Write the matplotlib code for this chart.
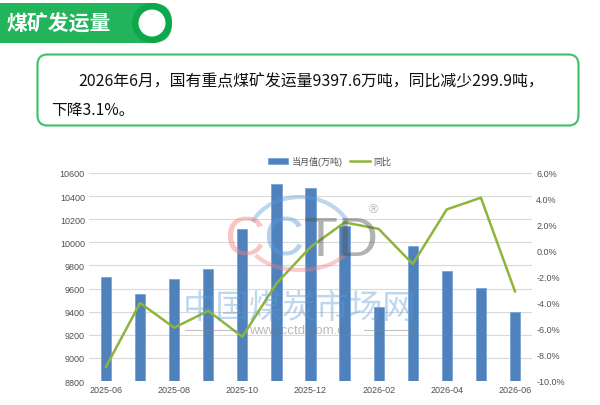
import matplotlib
matplotlib.use("Agg")
import matplotlib.pyplot as plt
from matplotlib.patches import FancyBboxPatch, Circle, Patch, Arc
from matplotlib.lines import Line2D
import numpy as np

plt.rcParams['font.family'] = ['Liberation Sans', 'Noto Sans CJK SC', 'DejaVu Sans']

months = ["2025-06", "2025-07", "2025-08", "2025-09", "2025-10", "2025-11", "2025-12",
          "2026-01", "2026-02", "2026-03", "2026-04", "2026-05", "2026-06"]
volume = [9697.5, 9556, 9683, 9767, 10113, 10508, 10473, 10139, 9440, 9966, 9749, 9605, 9397.6]
yoy = [-8.9, -4.0, -5.9, -4.6, -6.6, -2.5, 0.3, 2.2, 1.7, -1.0, 3.2, 4.1, -3.1]
left_ticks = [8800, 9000, 9200, 9400, 9600, 9800, 10000, 10200, 10400, 10600]
right_ticks = [-10, -8, -6, -4, -2, 0, 2, 4, 6]

title = "煤矿发运量"
line1 = "2026年6月，国有重点煤矿发运量9397.6万吨，同比减少299.9吨，"
line2 = "下降3.1%。"
legend_labels = ["当月值(万吨)", "同比"]

W, H = 600, 406
fig = plt.figure(figsize=(6, 4.06), dpi=100)
fig.patch.set_facecolor('white')

# main chart
ax = fig.add_axes([89 / W, 1 - 382 / H, (532 - 89) / W, 208 / H])
x = np.arange(len(months))
bar_color = '#4F81BD'
line_color = '#8DB53C'
ax.bar(x, volume, width=0.3, color=bar_color, edgecolor='#7aa3d6', linewidth=0.6, zorder=2)
ax.set_ylim(8800, 10600)
ax.set_xlim(-0.5, len(months) - 0.5)
ax.set_yticks(left_ticks)
ax.set_xticks(x[::2])
ax.set_xticklabels(months[::2])
ax.grid(axis='y', color='#d9d9d9', linewidth=0.8, zorder=0)
ax.set_axisbelow(True)
for s in ax.spines.values():
    s.set_visible(False)
ax.tick_params(length=0, labelsize=6.5, colors='#505050', pad=3)

ax2 = ax.twinx()
ax2.plot(x, yoy, color=line_color, linewidth=1.8, zorder=3)
ax2.set_ylim(-10, 6)
ax2.set_yticks(right_ticks)
ax2.set_yticklabels([f"{v:.1f}%" for v in right_ticks])
for s in ax2.spines.values():
    s.set_visible(False)
ax2.tick_params(length=0, labelsize=6.5, colors='#505050', pad=3)

handles = [Patch(facecolor=bar_color, edgecolor='#7aa3d6', linewidth=0.6),
           Line2D([0], [0], color=line_color, linewidth=1.8)]
fig.legend(handles, legend_labels, loc='center', bbox_to_anchor=(330 / W, 1 - 162 / H),
           ncol=2, frameon=False, fontsize=6.5, handlelength=2.2, handleheight=0.6,
           columnspacing=0.8, handletextpad=0.4, labelcolor='#505050')

# overlay in pixel coordinates
ov = fig.add_axes([0, 0, 1, 1], zorder=5)
ov.set_xlim(0, W)
ov.set_ylim(H, 0)
ov.axis('off')
ov.patch.set_alpha(0)

green = '#21B45B'
pill = FancyBboxPatch((-30, 4), 202, 40, boxstyle="round,pad=0,rounding_size=20",
                      facecolor=green, edgecolor='none')
ov.add_patch(pill)
ov.add_patch(Circle((152, 24), 20, facecolor='#0DA84B', edgecolor='none'))
ov.add_patch(Circle((152, 24), 13.5, facecolor='white', edgecolor='none'))
ov.text(7, 24.5, title, color='white', fontsize=15, fontweight='bold', va='center', ha='left',
        family=['Noto Sans CJK SC', 'DejaVu Sans'])

box = FancyBboxPatch((37.5, 55.5), 541, 71, boxstyle="round,pad=0,rounding_size=10",
                     facecolor='white', edgecolor='#3CC06A', linewidth=1.5)
ov.add_patch(box)
ov.text(78, 82, line1, fontsize=11.45, va='center', ha='left', color='#111111',
        family=['Noto Sans CJK SC', 'DejaVu Sans'])
ov.text(51, 110, line2, fontsize=11.3, va='center', ha='left', color='#111111',
        family=['Noto Sans CJK SC', 'DejaVu Sans'])

# watermark
wm_y = 242
ov.text(244, wm_y, "C", fontsize=40, color='#F08080', alpha=0.45, ha='center', va='center')
ov.text(283, wm_y, "C", fontsize=40, color='#5B9BD5', alpha=0.45, ha='center', va='center')
ov.text(321, wm_y, "T", fontsize=40, color='#555555', alpha=0.45, ha='center', va='center')
ov.text(357, wm_y, "D", fontsize=40, color='#555555', alpha=0.45, ha='center', va='center')
ov.text(373, 210, "®", fontsize=9, color='#888888', alpha=0.6, ha='center', va='center')
ov.add_patch(Arc((300, 240), 104, 84, theta1=200, theta2=340, color='#5B9BD5', alpha=0.4, lw=3))
ov.add_patch(Arc((300, 240), 104, 62, theta1=20, theta2=160, color='#F08080', alpha=0.4, lw=3))
ov.text(300, 309, "中国煤炭市场网", fontsize=24, color='#5B9BD5', alpha=0.4, ha='center', va='center',
        family=['Noto Sans CJK SC', 'DejaVu Sans'])
ov.text(300, 331, "www.cctd.com.cn", fontsize=9.5, color='#777777', alpha=0.5, ha='center', va='center')
ov.plot([185, 236], [331, 331], color='#888888', alpha=0.5, lw=0.8)
ov.plot([364, 415], [331, 331], color='#888888', alpha=0.5, lw=0.8)

fig.savefig("out.png", dpi=100)
